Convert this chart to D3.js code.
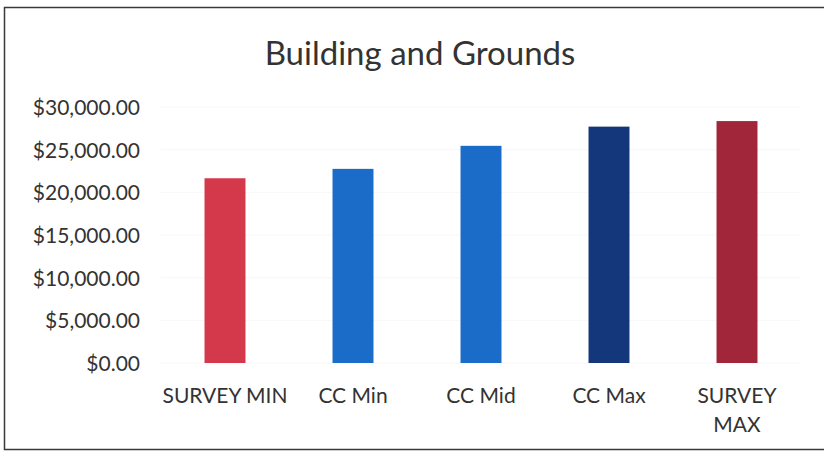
<!DOCTYPE html>
<html><head><meta charset="utf-8">
<script src="https://cdn.jsdelivr.net/npm/d3@7"></script>
<style>
html,body{margin:0;padding:0;background:#fff;}
svg{display:block;}
text{font-family:Lato,"Open Sans",sans-serif;}
</style></head>
<body>
<svg id="chart" width="824" height="454"></svg>
<script>
const title = "Building and Grounds";
const categories = ["SURVEY MIN", "CC Min", "CC Mid", "CC Max", "SURVEY MAX"];
const values = [21650, 22750, 25450, 27700, 28350];
const barColors = ["#d3394b", "#1b6cc9", "#1b6cc9", "#13377a", "#a2263a"];
const yTicks = [0, 5000, 10000, 15000, 20000, 25000, 30000];

const svg = d3.select("#chart");

// chart frame
svg.append("rect").attr("x", 4.5).attr("y", 7.5).attr("width", 830).attr("height", 442)
  .attr("fill", "#fff").attr("stroke", "#3a3a3a").attr("stroke-width", 1.5);

const plot = {left: 161, right: 801, top: 107, bottom: 363};

const x = d3.scaleBand().domain(categories).range([plot.left, plot.right]).paddingInner(0.68).paddingOuter(0.34);
const y = d3.scaleLinear().domain([0, 30000]).range([plot.bottom, plot.top]);

// title
svg.append("text").attr("x", 420).attr("y", 65).attr("text-anchor", "middle")
  .attr("font-size", 33).attr("fill", "#333").text(title);

// faint gridlines
svg.append("g").selectAll("line").data(yTicks).join("line")
  .attr("x1", plot.left).attr("x2", plot.right)
  .attr("y1", d => y(d)).attr("y2", d => y(d))
  .attr("stroke", "#f7f7f7").attr("stroke-width", 1);

// y axis
const fmt = v => "$" + d3.format(",.2f")(v);
const yAxis = d3.axisLeft(y).tickValues(yTicks).tickFormat(fmt).tickSize(0).tickPadding(0);
const gy = svg.append("g").attr("transform", `translate(140,0)`).call(yAxis);
gy.select(".domain").remove();
gy.selectAll("text").attr("font-size", 21).attr("fill", "#333")
  .attr("font-family", "Lato,'Open Sans',sans-serif").attr("dy", "0.35em");

// bars
svg.append("g").selectAll("rect").data(categories).join("rect")
  .attr("x", d => x(d)).attr("width", x.bandwidth())
  .attr("y", (d, i) => y(values[i])).attr("height", (d, i) => y(0) - y(values[i]))
  .attr("fill", (d, i) => barColors[i]);

// x axis labels
const xAxis = d3.axisBottom(x).tickSize(0).tickPadding(0);
const gx = svg.append("g").attr("transform", `translate(0,${plot.bottom})`).call(xAxis);
gx.select(".domain").remove();
gx.selectAll("text").attr("font-size", 21).attr("fill", "#333")
  .attr("font-family", "Lato,'Open Sans',sans-serif").attr("dy", null).attr("y", 40)
  .each(function(d) {
    const t = d3.select(this);
    const w = this.getComputedTextLength();
    const cx = x(d) + x.bandwidth() / 2;
    if (cx + w / 2 > 790 && d.indexOf(" ") > 0) {
      const words = d.split(" ");
      t.text(null);
      words.forEach((wd, k) => {
        t.append("tspan").attr("x", 0).attr("dy", k === 0 ? 0 : 29).text(wd);
      });
    }
  });
</script>
</body></html>
